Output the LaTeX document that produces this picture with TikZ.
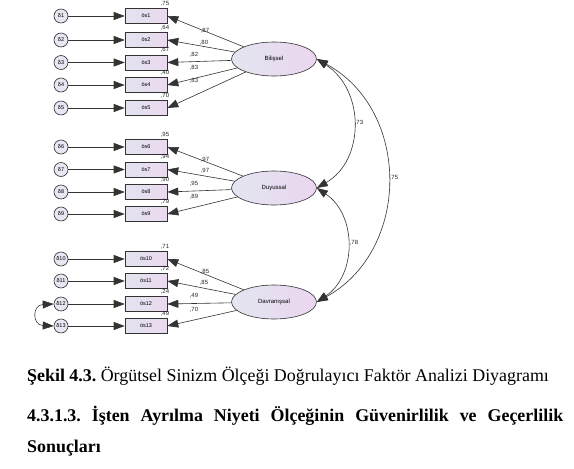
\documentclass[tikz,border=0pt]{standalone}
\usepackage{fontspec}
\setmainfont{Liberation Serif}
\newfontfamily\dgfont{Liberation Sans}
\usetikzlibrary{arrows.meta,shapes.geometric}
\definecolor{errfill}{HTML}{E9E5F3}
\definecolor{boxl}{HTML}{E3E3EE}
\definecolor{boxr}{HTML}{EBD9F0}
\definecolor{latl}{HTML}{E3E6F0}
\definecolor{latr}{HTML}{EBD5F0}
\definecolor{lnc}{HTML}{333333}
\frenchspacing
\begin{document}
\begin{tikzpicture}[x=1pt,y=-1pt,
  err/.style={circle,draw=lnc,line width=0.6pt,fill=errfill,minimum size=14pt,inner sep=0pt,font=\dgfont\fontsize{5.5}{6}\selectfont},
  obs/.style={rectangle,draw=lnc,line width=0.6pt,left color=boxl,right color=boxr,minimum width=42pt,minimum height=15pt,inner sep=0pt,font=\dgfont\fontsize{5.5}{6}\selectfont},
  lat/.style={ellipse,draw=lnc,line width=0.6pt,left color=latl,right color=latr,minimum width=85pt,minimum height=34pt,inner sep=0pt,font=\dgfont\fontsize{6}{7}\selectfont},
  arr/.style={-{Triangle[length=11pt,width=8pt]},line width=0.6pt,draw=lnc},
  cov/.style={{Triangle[length=11pt,width=8pt]}-{Triangle[length=11pt,width=8pt]},line width=0.6pt,draw=lnc},
  num/.style={font=\dgfont\fontsize{6}{7}\selectfont,inner sep=0pt,text=black!85},
  captxt/.style={font=\fontsize{17.9}{20}\selectfont,inner sep=0pt,anchor=base west}
]
\fill[white] (0,0) rectangle (574,469);
\useasboundingbox (0,0) rectangle (574,469);

% latent variables
\node[lat] (bil) at (274,59) {Bilişsel};
\node[lat] (duy) at (274,188) {Duyussal};
\node[lat] (dav) at (274,302) {Davranışsal};

% error terms and observed items
\foreach \i/\y/\r/\lx/\ly/\l/\f in {
  1/16/{,75}/205/30.7/{,87}/bil,
  2/40/{,64}/204/42.3/{,80}/bil,
  3/62.5/{,67}/194/54.3/{,82}/bil,
  4/85/{,40}/194/68/{,83}/bil,
  5/108/{,70}/194/80.7/{,83}/bil,
  6/147/{,95}/205/159.3/{,97}/duy,
  7/169.5/{,94}/205/171/{,97}/duy,
  8/192/{,90}/194/183.7/{,95}/duy,
  9/214/{,79}/194/196.7/{,89}/duy,
  10/259/{,71}/205/271.7/{,85}/dav,
  11/281/{,72}/204/283/{,85}/dav,
  12/304/{,24}/194/296/{,49}/dav,
  13/326/{,49}/194/310/{,70}/dav}{
  \node[err] (e\i) at (61,\y) {δ\i};
  \node[obs] (b\i) at (146,\y) {ös\i};
  \draw[arr] (e\i) -- (b\i);
  \draw[arr] (\f) -- (b\i.east);
  \node[num] (r\i) at (165,\y-12.5) {\r};
  \node[num] (l\i) at (\lx,\ly) {\l};
}

% covariances between latent variables
\draw[cov] (bil.east) .. controls (365,90) and (365,160) .. (duy.east);
\node[num] (c1) at (359,123) {,73};
\draw[cov] (duy.east) .. controls (357,215) and (357,275) .. (dav.east);
\node[num] (c2) at (354,243) {,78};
\draw[cov] (bil.east) .. controls (411,110) and (411,250) .. (dav.east);
\node[num] (c3) at (394,178) {,75};

% error covariance
\draw[cov] (e12.west) .. controls (32,305) and (32,325) .. (e13.west);

% caption
\node[captxt] (capt) at (27,381) {\textbf{Şekil 4.3.} Örgütsel Sinizm Ölçeği Doğrulayıcı Faktör Analizi Diyagramı};
\node[captxt] (head) at (27,421) {\bfseries\makebox[536pt][s]{4.3.1.3. İşten Ayrılma Niyeti Ölçeğinin Güvenirlilik ve Geçerlilik}};
\node[captxt] (head2) at (27,452) {\bfseries Sonuçları};
\end{tikzpicture}
\end{document}
